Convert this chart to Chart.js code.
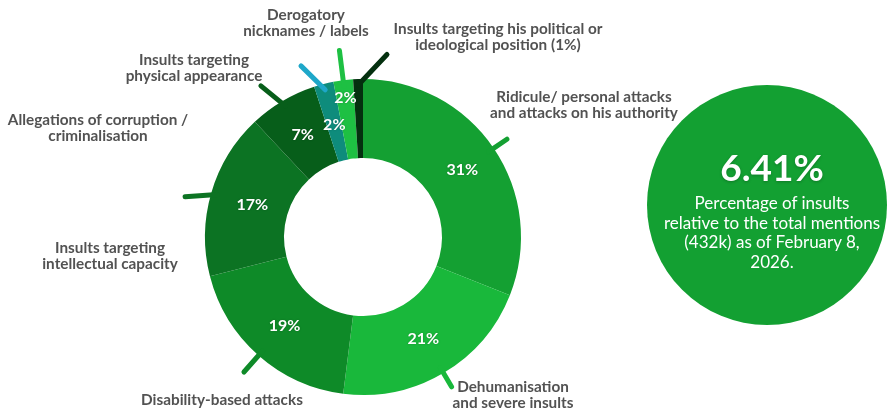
<!DOCTYPE html>
<html>
<head>
<meta charset="utf-8">
<title>Insult categories</title>
<script src="https://cdn.jsdelivr.net/npm/chart.js@4.4.1/dist/chart.umd.min.js"></script>
<style>
  html, body { margin: 0; padding: 0; background: #ffffff; }
  #wrap { position: relative; width: 890px; height: 416px; overflow: hidden; font-family: Lato, "Open Sans", sans-serif; }
  #wrap canvas { position: absolute; left: 0; top: 0; }
  #kpi {
    position: absolute; left: 647px; top: 85px; width: 240px; height: 240px;
    border-radius: 50%; background: #13a032; color: #ffffff; text-align: center;
  }
  #kpi .big {
    position: absolute; left: 5px; right: -5px; top: 62px;
    font-weight: 700; font-size: 37px; line-height: 40px;
    text-shadow: 0 1px 3px rgba(0,0,0,0.25);
  }
  #kpi .sub {
    position: absolute; left: -10px; right: -20px; top: 108px;
    font-weight: 400; font-size: 17px; line-height: 19.5px;
  }
</style>
</head>
<body>
<div id="wrap">
  <canvas id="chart" width="890" height="416"></canvas>
  <div id="kpi"><div class="big" id="kpiValue"></div><div class="sub" id="kpiText"></div></div>
</div>
<script>
// Categories of insults, clockwise from 12 o'clock
const categoryLines = [
  ['Ridicule/ personal attacks', 'and attacks on his authority'],
  ['Dehumanisation', 'and severe insults'],
  ['Disability-based attacks'],
  ['Insults targeting', 'intellectual capacity'],
  ['Allegations of corruption /', 'criminalisation'],
  ['Insults targeting', 'physical appearance'],
  ['Derogatory', 'nicknames / labels'],
  ['Insults targeting his political or', 'ideological position (1%)']
];
const categories = categoryLines.map(l => l.join(' '));

// Share of insults per category (%)
const shares = [31, 21, 19, 17, 7, 2, 2, 1];

// Headline figure shown in the green disc
const insultRate = 6.41;
const totalMentions = '432k';
const asOfDate = 'February 8, 2026';

// Slice and leader-line colours
const sliceColours  = ['#14a032', '#19b83b', '#0e8a28', '#0c7323', '#075e1a', '#0e8c7c', '#1ec043', '#04300f'];
const leaderColours = ['#14a032', '#19b83b', '#0e8a28', '#0c7323', '#075e1a', '#1ea7c9', '#1ec043', '#04300f'];

// Callout styling: text offset from the doughnut centre, leader length / lean, percent radius
const calloutLayout = [
  { dx:  221, dy: -140, len: 22, lean:   0, pctAt: 0.52 },
  { dx:  150, dy:  150, len: 22, lean:   0, pctAt: 0.50 },
  { dx: -141, dy:  163, len: 28, lean:   0, pctAt: 0.50 },
  { dx: -253, dy:   11, len: 32, lean: -20, pctAt: 0.46 },
  { dx: -265, dy: -117, len: 32, lean: -20, pctAt: 0.50 },
  { dx: -169, dy: -177, len: 34, lean: -31, pctAt: 0.46 },
  { dx:  -57, dy: -222, len: 36, lean:   0, pctAt: 0.77 },
  { dx:  135, dy: -208, len: 42, lean:  45, pctAt: 0.50 }
];

document.getElementById('kpiValue').textContent = insultRate.toFixed(2) + '%';
document.getElementById('kpiText').innerHTML =
  'Percentage of insults<br>relative to the total mentions<br>(' + totalMentions + ') as of ' +
  asOfDate.replace(', ', ',<br>') + '.';

const calloutPlugin = {
  id: 'callouts',
  afterDatasetsDraw(chart) {
    const ctx = chart.ctx;
    const meta = chart.getDatasetMeta(0);
    meta.data.forEach((arc, i) => {
      const p = arc.getProps(['x', 'y', 'startAngle', 'endAngle', 'innerRadius', 'outerRadius'], true);
      const mid = (p.startAngle + p.endAngle) / 2;
      const lay = calloutLayout[i];

      // leader line
      const r0 = p.outerRadius - 6;
      const sx = p.x + Math.cos(mid) * r0;
      const sy = p.y + Math.sin(mid) * r0;
      const dir = mid + lay.lean * Math.PI / 180;
      const ex = sx + Math.cos(dir) * lay.len;
      const ey = sy + Math.sin(dir) * lay.len;
      ctx.save();
      ctx.strokeStyle = leaderColours[i];
      ctx.lineWidth = 5;
      ctx.lineCap = 'round';
      ctx.beginPath();
      ctx.moveTo(sx, sy);
      ctx.lineTo(ex, ey);
      ctx.stroke();
      ctx.restore();

      // percentage inside the slice (the thinnest slice carries it in its name)
      if (shares[i] >= 2) {
        const rl = p.innerRadius + (p.outerRadius - p.innerRadius) * lay.pctAt;
        ctx.save();
        ctx.font = '700 16px Lato, sans-serif';
        ctx.fillStyle = '#ffffff';
        ctx.textAlign = 'center';
        ctx.textBaseline = 'middle';
        ctx.shadowColor = 'rgba(0,0,0,0.25)';
        ctx.shadowBlur = 2;
        ctx.fillText(shares[i] + '%', p.x + Math.cos(mid) * rl, p.y + Math.sin(mid) * rl);
        ctx.restore();
      }

      // category name outside
      ctx.save();
      ctx.font = '700 15.3px Lato, sans-serif';
      ctx.fillStyle = '#525252';
      ctx.textAlign = 'center';
      ctx.textBaseline = 'middle';
      categoryLines[i].forEach((t, k) => {
        ctx.fillText(t, p.x + lay.dx, p.y + lay.dy + k * 15.8);
      });
      ctx.restore();
    });
  }
};

new Chart(document.getElementById('chart'), {
  type: 'doughnut',
  data: {
    labels: categories,
    datasets: [{
      data: shares,
      backgroundColor: sliceColours,
      borderWidth: 0
    }]
  },
  options: {
    responsive: false,
    animation: false,
    cutout: '50%',
    rotation: 0,
    layout: { padding: { left: 205, right: 369, top: 79, bottom: 21 } },
    plugins: { legend: { display: false }, tooltip: { enabled: false } }
  },
  plugins: [calloutPlugin]
});
</script>
</body>
</html>
